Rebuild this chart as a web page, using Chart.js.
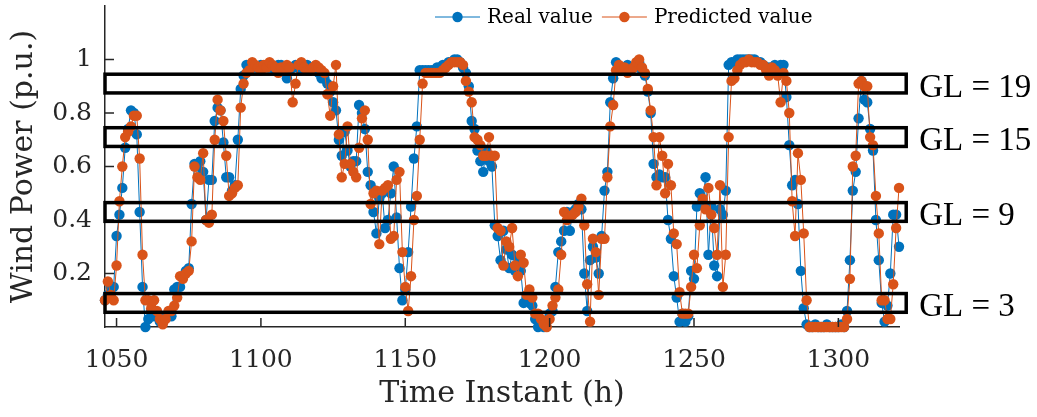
<!DOCTYPE html>
<html><head><meta charset="utf-8">
<script src="https://cdn.jsdelivr.net/npm/chart.js@4.4.0/dist/chart.umd.min.js"></script>
<style>html,body{margin:0;padding:0;background:#fff;overflow:hidden}canvas{display:block}</style>
</head><body>
<canvas id="c" width="1037" height="417"></canvas>
<script>
const startHour = 1046;
const realValue = [
  0.10, 0.12, 0.15, 0.15,
  0.34, 0.42, 0.52, 0.67, 0.74, 0.81, 0.80, 0.72, 0.43, 0.15,
  0.00, 0.03, 0.06, 0.04, 0.04, 0.02, 0.03, 0.04, 0.05, 0.04,
  0.14, 0.15, 0.15, 0.19, 0.21, 0.22, 0.46, 0.61, 0.60, 0.62,
  0.58, 0.40, 0.55, 0.55, 0.77, 0.82, 0.81, 0.69, 0.56, 0.56,
  0.51, 0.53, 0.70, 0.89, 0.94, 0.98, 0.97, 0.98, 0.97, 0.97,
  0.98, 0.97, 0.98, 0.97, 0.97, 0.96, 0.98, 0.98, 0.97, 0.93,
  0.96, 0.97, 0.98, 0.97, 0.96, 0.97, 0.98, 0.96, 0.97, 0.96,
  0.95, 0.93, 0.93, 0.91, 0.88, 0.84, 0.81, 0.70, 0.64, 0.73,
  0.66, 0.60, 0.62, 0.62, 0.83, 0.80, 0.74, 0.58, 0.53, 0.43,
  0.35, 0.48, 0.50, 0.37, 0.40, 0.50, 0.60, 0.41, 0.22, 0.10,
  0.14, 0.28, 0.45, 0.63, 0.75, 0.96, 0.96, 0.96, 0.96, 0.96,
  0.96, 0.97, 0.97, 0.98, 0.98, 0.99, 0.99, 1.00, 1.00, 0.99,
  0.97, 0.95, 0.90, 0.77, 0.74, 0.66, 0.62, 0.58, 0.66, 0.62,
  0.60, 0.38, 0.34, 0.25, 0.36, 0.29, 0.22, 0.27, 0.21, 0.26,
  0.21, 0.09, 0.11, 0.09, 0.08, 0.03, 0.00, 0.01, 0.00, 0.02,
  0.05, 0.06, 0.15, 0.28, 0.32, 0.36, 0.43, 0.36, 0.43, 0.44,
  0.46, 0.44, 0.20, 0.06, 0.25, 0.30, 0.26, 0.20, 0.34, 0.51,
  0.58, 0.84, 0.93, 0.99, 0.97, 0.96, 0.97, 0.98, 0.96, 0.97,
  0.98, 0.99, 0.96, 0.94, 0.88, 0.80, 0.61, 0.56, 0.57, 0.56,
  0.56, 0.40, 0.33, 0.19, 0.11, 0.02, 0.05, 0.02, 0.04, 0.21,
  0.18, 0.45, 0.50, 0.47, 0.56, 0.27, 0.45, 0.23, 0.19, 0.44,
  0.42, 0.51, 0.98, 0.99, 0.99, 1.00, 1.00, 1.00, 1.00, 1.00,
  1.00, 1.00, 0.99, 0.99, 0.98, 0.97, 0.97, 0.96, 0.98, 0.97,
  0.98, 0.98, 0.86, 0.68, 0.53, 0.55, 0.46, 0.21, 0.07, 0.01,
  0.00, 0.00, 0.01, 0.00, 0.00, 0.00, 0.01, 0.00, 0.00, 0.00,
  0.00, 0.01, 0.00, 0.06, 0.25, 0.51, 0.58, 0.78, 0.92, 0.85,
  0.84, 0.74, 0.66, 0.40, 0.25, 0.09, 0.02, 0.08, 0.20, 0.42,
  0.42, 0.30
];
const predictedValue = [
  0.10, 0.17, 0.12, 0.10,
  0.23, 0.47, 0.60, 0.71, 0.73, 0.75, 0.79, 0.79, 0.63, 0.27,
  0.10, 0.10, 0.07, 0.10, 0.06, 0.03, 0.01, 0.03, 0.06, 0.06,
  0.08, 0.11, 0.19, 0.18, 0.20, 0.21, 0.32, 0.60, 0.56, 0.55,
  0.65, 0.40, 0.39, 0.42, 0.70, 0.85, 0.81, 0.77, 0.64, 0.49,
  0.50, 0.52, 0.53, 0.82, 0.91, 0.95, 0.96, 0.99, 0.98, 0.97,
  0.96, 0.98, 0.97, 0.99, 0.98, 0.97, 0.95, 0.97, 0.96, 0.98,
  0.97, 0.84, 0.91, 0.98, 0.99, 0.97, 0.96, 0.96, 0.97, 0.98,
  0.97, 0.96, 0.95, 0.87, 0.79, 0.90, 0.98, 0.72, 0.56, 0.61,
  0.75, 0.61, 0.58, 0.56, 0.67, 0.78, 0.81, 0.70, 0.46, 0.50,
  0.51, 0.31, 0.51, 0.52, 0.53, 0.33, 0.34, 0.55, 0.58, 0.28,
  0.15, 0.06, 0.19, 0.40, 0.49, 0.70, 0.91, 0.95, 0.95, 0.95,
  0.95, 0.95, 0.95, 0.96, 0.97, 0.98, 0.99, 0.99, 0.99, 0.99,
  0.98, 0.92, 0.88, 0.84, 0.71, 0.70, 0.68, 0.64, 0.64, 0.71,
  0.64, 0.64, 0.37, 0.36, 0.23, 0.32, 0.30, 0.37, 0.23, 0.19,
  0.27, 0.24, 0.12, 0.14, 0.11, 0.05, 0.05, 0.03, 0.01, 0.00,
  0.03, 0.08, 0.11, 0.14, 0.27, 0.43, 0.40, 0.41, 0.42, 0.43,
  0.45, 0.48, 0.38, 0.16, 0.02, 0.33, 0.28, 0.12, 0.33, 0.33,
  0.56, 0.75, 0.83, 0.96, 0.98, 0.96, 0.97, 0.95, 0.96, 0.97,
  0.99, 1.00, 0.97, 0.95, 0.89, 0.81, 0.71, 0.53, 0.71, 0.64,
  0.50, 0.61, 0.53, 0.35, 0.31, 0.13, 0.05, 0.05, 0.05, 0.15,
  0.27, 0.22, 0.38, 0.48, 0.44, 0.52, 0.42, 0.37, 0.27, 0.53,
  0.15, 0.27, 0.71, 0.92, 0.93, 0.96, 0.98, 0.99, 0.99, 1.00,
  0.99, 0.99, 0.99, 0.98, 0.98, 0.96, 0.94, 0.97, 0.96, 0.94,
  0.84, 0.95, 0.92, 0.80, 0.47, 0.34, 0.65, 0.55, 0.35, 0.10,
  0.00, 0.00, 0.00, 0.00, 0.00, 0.00, 0.00, 0.00, 0.00, 0.00,
  0.00, 0.00, 0.00, 0.03, 0.18, 0.60, 0.64, 0.91, 0.92, 0.90,
  0.90, 0.71, 0.68, 0.49, 0.35, 0.10, 0.10, 0.03, 0.03, 0.16,
  0.37, 0.52
];
const seriesNames = ['Real value', 'Predicted value'];
const seriesColors = ['#0072BD', '#D95319'];
const xTicks = [1050, 1100, 1150, 1200, 1250, 1300];
const yTicks = [0.2, 0.4, 0.6, 0.8, 1];
const glLabels = ['GL = 19', 'GL = 15', 'GL = 9', 'GL = 3'];
const glLow = [0.875, 0.675, 0.395, 0.055];
const glHigh = [0.945, 0.745, 0.465, 0.125];
const xMin = 1046, xMax = 1321, yMin = 0, yMax = 1.2;
const boxXStart = 1046, boxXEnd = 1323.5;

const hours = realValue.map((_, i) => startHour + i);
const toPts = arr => arr.map((v, i) => ({x: hours[i], y: v}));

const AXIS = '#262626';
const SERIF = '"DejaVu Serif", serif';
const MARKER_R = 5.2;

const overlay = {
  id: 'overlay',
  afterDatasetsDraw(chart) {
    const {ctx, scales: {x, y}} = chart;
    ctx.save();
    ctx.strokeStyle = AXIS;
    ctx.lineWidth = 1.5;
    ctx.beginPath();
    xTicks.forEach(t => {
      const px = x.getPixelForValue(t);
      ctx.moveTo(px, y.bottom); ctx.lineTo(px, y.bottom - 9);
    });
    yTicks.forEach(t => {
      const py = y.getPixelForValue(t);
      ctx.moveTo(x.left, py); ctx.lineTo(x.left + 9, py);
    });
    ctx.stroke();
    ctx.strokeStyle = '#000';
    ctx.lineWidth = 3.5;
    ctx.fillStyle = '#000';
    ctx.font = '33px "Liberation Serif", serif';
    ctx.textAlign = 'left';
    ctx.textBaseline = 'alphabetic';
    glLow.forEach((lo, i) => {
      const x0 = x.getPixelForValue(boxXStart), x1 = x.getPixelForValue(boxXEnd);
      const yt = y.getPixelForValue(glHigh[i]), yb = y.getPixelForValue(lo);
      ctx.strokeRect(x0, yt, x1 - x0, yb - yt);
      ctx.fillText(glLabels[i], x1 + 13, (yt + yb) / 2 + 13);
    });
    ctx.restore();
  },
  afterDraw(chart) {
    const {ctx} = chart;
    ctx.save();
    ctx.font = '20px ' + SERIF;
    ctx.textBaseline = 'middle';
    ctx.textAlign = 'left';
    let lx = 435;
    const ly = 17;
    seriesNames.forEach((name, i) => {
      ctx.strokeStyle = seriesColors[i];
      ctx.lineWidth = 1;
      ctx.beginPath(); ctx.moveTo(lx, ly); ctx.lineTo(lx + 45, ly); ctx.stroke();
      ctx.fillStyle = seriesColors[i];
      ctx.beginPath(); ctx.arc(lx + 22.5, ly, MARKER_R, 0, Math.PI * 2); ctx.fill();
      ctx.fillStyle = '#000';
      ctx.fillText(name, lx + 52, ly + 1);
      lx += 52 + ctx.measureText(name).width + 9;
    });
    ctx.restore();
  }
};

const mkSet = (label, data, color, order) => ({
  label, data: toPts(data), order,
  borderColor: color, backgroundColor: color, borderWidth: 1,
  pointRadius: MARKER_R, pointHoverRadius: MARKER_R, pointBorderWidth: 0,
  pointBackgroundColor: color, tension: 0, clip: false
});

const noPad = s => { s.paddingTop = 0; s.paddingBottom = 0; s.paddingLeft = 0; s.paddingRight = 0; };

new Chart(document.getElementById('c'), {
  type: 'line',
  data: {
    datasets: [
      mkSet(seriesNames[0], realValue, seriesColors[0], 1),
      mkSet(seriesNames[1], predictedValue, seriesColors[1], 0)
    ]
  },
  options: {
    responsive: false, animation: false, devicePixelRatio: 1,
    events: [],
    layout: {padding: {top: 6, right: 138, left: 0, bottom: 0}},
    plugins: {legend: {display: false}, tooltip: {enabled: false}},
    scales: {
      x: {
        type: 'linear', min: xMin, max: xMax,
        grid: {display: false, drawTicks: false},
        border: {display: true, color: AXIS, width: 1.5},
        ticks: {font: {family: SERIF, size: 25}, color: AXIS, padding: 18, maxRotation: 0, autoSkip: false,
                callback: v => String(v)},
        afterBuildTicks: s => { s.ticks = xTicks.map(v => ({value: v})); },
        afterFit: s => { s.height = 90; noPad(s); },
        title: {display: true, text: 'Time Instant (h)', font: {family: SERIF, size: 30}, color: AXIS,
                padding: {top: 0, bottom: 5}}
      },
      y: {
        type: 'linear', min: yMin, max: yMax,
        grid: {display: false, drawTicks: false},
        border: {display: true, color: AXIS, width: 1.5},
        ticks: {font: {family: SERIF, size: 25}, color: AXIS, padding: 13, autoSkip: false,
                callback: v => String(v)},
        afterBuildTicks: s => { s.ticks = yTicks.map(v => ({value: v})); },
        afterFit: s => { s.width = 105; noPad(s); },
        title: {display: true, text: 'Wind Power (p.u.)', font: {family: SERIF, size: 30}, color: AXIS,
                padding: {top: 6, bottom: 0}}
      }
    }
  },
  plugins: [overlay]
});
</script>
</body></html>
